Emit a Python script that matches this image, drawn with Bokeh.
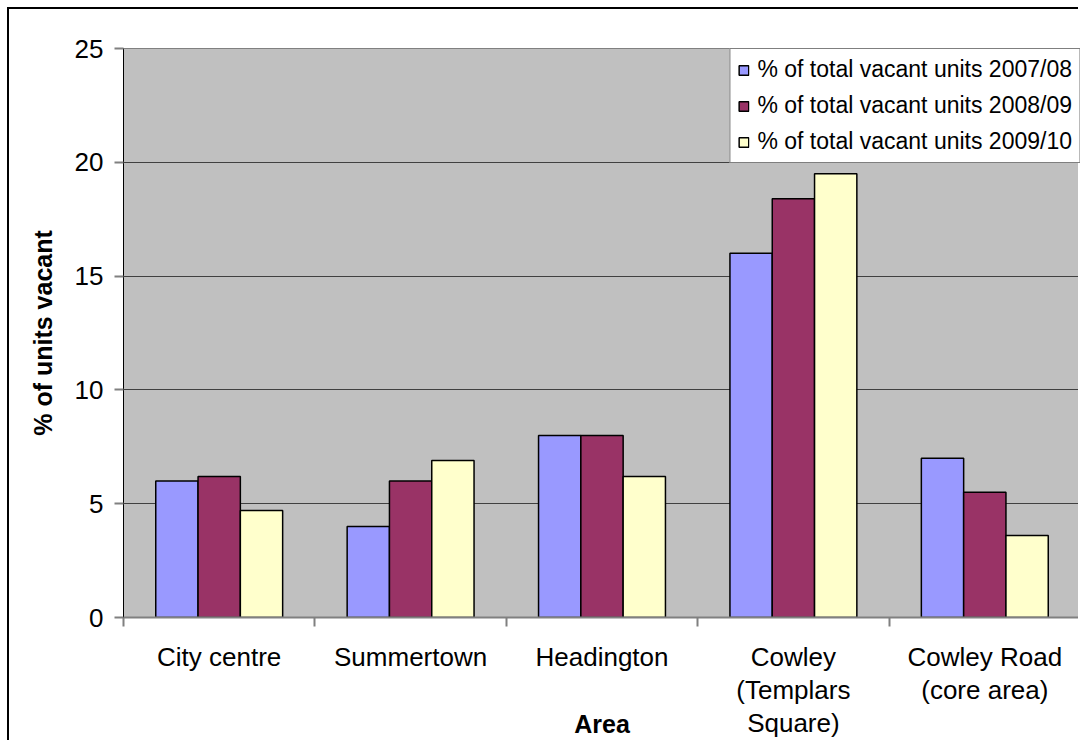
from bokeh.plotting import figure
from bokeh.models import ColumnDataSource, FixedTicker, Legend, LegendItem
from bokeh.transform import dodge
from bokeh.embed import file_html
from bokeh.resources import INLINE

areas = ["City centre", "Summertown", "Headington", "Cowley\n(Templars\nSquare)", "Cowley Road\n(core area)"]
series_names = ["% of total vacant units 2007/08", "% of total vacant units 2008/09", "% of total vacant units 2009/10"]
v0708 = [6.0, 4.0, 8.0, 16.0, 7.0]
v0809 = [6.2, 6.0, 8.0, 18.4, 5.5]
v0910 = [4.7, 6.9, 6.2, 19.5, 3.6]
y_ticks = [0, 5, 10, 15, 20, 25]
colors = ["#9999FF", "#993366", "#FFFFCC"]

FONT = "Liberation Sans"

src = ColumnDataSource(dict(x=list(range(len(areas))), a=v0708, b=v0809, c=v0910))

p = figure(width=1071, height=733, output_backend="svg", toolbar_location=None,
           x_range=(-0.5, 4.5), y_range=(0, 25),
           min_border_left=114, min_border_top=39, min_border_right=0, min_border_bottom=125)
p.styles = {"margin-left": "7px", "margin-top": "7px",
            "border-left": "2px solid black", "border-top": "2px solid black"}
p.background_fill_color = "#C0C0C0"
p.border_fill_color = "white"
p.outline_line_color = "#808080"
p.outline_line_width = 1

bw = 0.221
renderers = []
for col, off, c in zip(["a", "b", "c"], [-bw, 0, bw], colors):
    r = p.vbar(x=dodge("x", off), top=col, width=bw, source=src,
               fill_color=c, line_color="black", line_width=1.5)
    renderers.append(r)

# x axis
p.xaxis.ticker = FixedTicker(ticks=list(range(len(areas))),
                             minor_ticks=[i - 0.5 for i in range(len(areas) + 1)])
p.xaxis.major_label_overrides = {i: a for i, a in enumerate(areas)}
p.xaxis.major_tick_out = 0
p.xaxis.major_tick_in = 0
p.xaxis.minor_tick_out = 9
p.xaxis.minor_tick_in = 0
p.xaxis.minor_tick_line_color = "#808080"
p.xaxis.minor_tick_line_width = 2
p.xaxis.axis_line_color = "#808080"
p.xaxis.axis_line_width = 2
p.xaxis.major_label_text_font = FONT
p.xaxis.major_label_text_font_size = "26px"
p.xaxis.major_label_text_color = "black"
p.xaxis.major_label_text_line_height = 1.1
p.xaxis.major_label_standoff = 15
p.xaxis.axis_label = "Area"
p.xaxis.axis_label_text_font = FONT
p.xaxis.axis_label_text_font_size = "25px"
p.xaxis.axis_label_text_font_style = "bold"
p.xaxis.axis_label_text_color = "black"
p.xaxis.axis_label_standoff = -31

# y axis
p.yaxis.ticker = FixedTicker(ticks=y_ticks, minor_ticks=[])
p.yaxis.major_tick_out = 9
p.yaxis.major_tick_in = 0
p.yaxis.major_tick_line_color = "#808080"
p.yaxis.major_tick_line_width = 2
p.yaxis.axis_line_color = "black"
p.yaxis.axis_line_width = 1
p.yaxis.major_label_text_font = FONT
p.yaxis.major_label_text_font_size = "26px"
p.yaxis.major_label_text_color = "black"
p.yaxis.major_label_standoff = 11
p.yaxis.axis_label = "% of units vacant"
p.yaxis.axis_label_text_font = FONT
p.yaxis.axis_label_text_font_size = "25px"
p.yaxis.axis_label_text_font_style = "bold"
p.yaxis.axis_label_text_color = "black"
p.yaxis.axis_label_standoff = 15

p.xgrid.visible = False
p.ygrid.grid_line_color = "#404040"
p.ygrid.grid_line_width = 1

legend = Legend(items=[LegendItem(label=n, renderers=[r]) for n, r in zip(series_names, renderers)],
                location="top_right", margin=0, padding=7, spacing=9,
                label_height=20, glyph_width=12, glyph_height=12, label_standoff=8,
                label_text_font=FONT, label_text_font_size="23px", label_text_color="black",
                border_line_color="black", border_line_width=1,
                background_fill_color="white", background_fill_alpha=1)
p.add_layout(legend)

open("out.html", "w").write(file_html(p, INLINE))
